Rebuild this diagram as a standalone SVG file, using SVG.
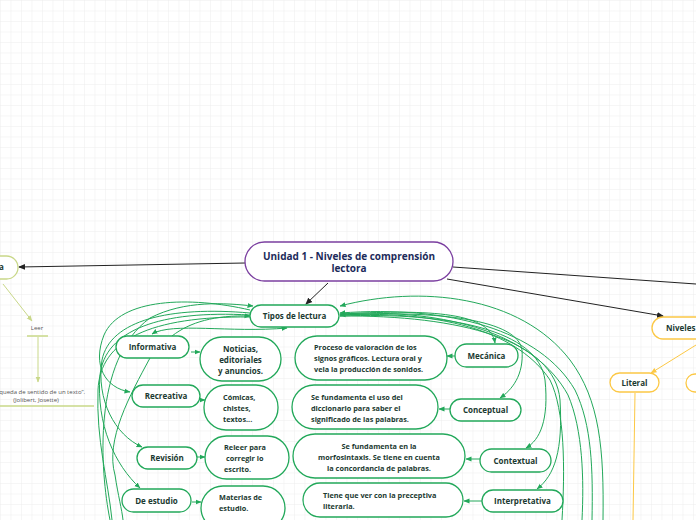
<svg xmlns="http://www.w3.org/2000/svg" width="696" height="520" viewBox="0 0 696 520">
<defs>
<pattern id="grid" width="10.5" height="10.5" patternUnits="userSpaceOnUse">
<path d="M10.5,0 L0,0 L0,10.5" fill="none" stroke="#ededed" stroke-width="1"/>
</pattern>
<marker id="ag" markerWidth="6" markerHeight="6" refX="5.5" refY="3" orient="auto" markerUnits="userSpaceOnUse">
<path d="M0,0.5 L6,3 L0,5.5 z" fill="#22a85a"/>
</marker>
<marker id="ags" markerWidth="6" markerHeight="6" refX="0.5" refY="3" orient="auto" markerUnits="userSpaceOnUse">
<path d="M6,0.5 L0,3 L6,5.5 z" fill="#22a85a"/>
</marker>
<marker id="ak" markerWidth="7" markerHeight="7" refX="6" refY="3.5" orient="auto" markerUnits="userSpaceOnUse">
<path d="M0,0.5 L7,3.5 L0,6.5 z" fill="#222"/>
</marker>
<marker id="ay" markerWidth="6" markerHeight="6" refX="5.5" refY="3" orient="auto" markerUnits="userSpaceOnUse">
<path d="M0,0.5 L6,3 L0,5.5 z" fill="#fcc845"/>
</marker>
<marker id="al" markerWidth="6" markerHeight="6" refX="5.5" refY="3" orient="auto" markerUnits="userSpaceOnUse">
<path d="M0,0.5 L6,3 L0,5.5 z" fill="#c9d889"/>
</marker>
</defs>
<style>
.n{fill:#fff;stroke:#22a85a;stroke-width:1.3}
.y{fill:#fff;stroke:#fcc845;stroke-width:1.3}
.t{font-family:"Open Sans","Noto Sans",sans-serif;font-weight:700;font-size:8px;fill:#1b3a31;text-anchor:middle}
.d{font-family:"Open Sans","Noto Sans",sans-serif;font-weight:700;font-size:7.3px;fill:#1b3a31}
.c{fill:none;stroke:#22a85a;stroke-width:1}
.k{fill:none;stroke:#222;stroke-width:1}
.s{font-family:"Open Sans","Noto Sans",sans-serif;font-size:6px;fill:#555;text-anchor:middle}
</style>
<rect width="696" height="520" fill="#fff"/>
<rect width="696" height="520" fill="url(#grid)"/>

<g id="connectors">
<line class="k" x1="245" y1="263" x2="19" y2="267" marker-end="url(#ak)"/>
<line class="k" x1="453" y1="267" x2="696" y2="284"/>
<line class="k" x1="447" y1="279" x2="663" y2="316" marker-end="url(#ak)"/>
<line class="k" x1="328" y1="283" x2="306" y2="304" marker-end="url(#ak)"/>
<line x1="3" y1="284" x2="32" y2="321" stroke="#c9d889" stroke-width="1" marker-end="url(#al)"/>
<line x1="27" y1="336" x2="48" y2="336" stroke="#c9d889" stroke-width="1.5"/>
<line x1="38" y1="337" x2="38" y2="382" stroke="#c9d889" stroke-width="1" marker-end="url(#al)"/>
<line x1="0" y1="406" x2="94" y2="406" stroke="#c9d889" stroke-width="1.5"/>
<line x1="696" y1="345" x2="651" y2="373" stroke="#fcc845" stroke-width="1" marker-end="url(#ay)"/>
<line x1="635" y1="393" x2="633" y2="520" stroke="#fcc845" stroke-width="1"/>
<!-- short arrows -->
<line class="c" x1="191" y1="352" x2="200" y2="352" marker-end="url(#ag)"/>
<line class="c" x1="200" y1="400" x2="205" y2="400" marker-end="url(#ag)"/>
<line class="c" x1="197" y1="457" x2="205" y2="457" marker-end="url(#ag)"/>
<line class="c" x1="192" y1="502" x2="201" y2="502" marker-end="url(#ag)"/>
<line class="c" x1="455" y1="356" x2="447" y2="356" marker-end="url(#ag)"/>
<line class="c" x1="450" y1="409" x2="439" y2="409" marker-end="url(#ag)"/>
<line class="c" x1="480" y1="459" x2="466" y2="459" marker-end="url(#ag)"/>
<line class="c" x1="482" y1="501" x2="464" y2="501" marker-end="url(#ag)"/>
<!-- left curves -->
<path class="c" d="M250,310 C190,296 120,298 104,335 C92,365 105,388 130,392" marker-end="url(#ag)"/>
<path class="c" d="M250,313 C170,306 110,320 102,360 C96,400 115,435 142,447" marker-end="url(#ag)"/>
<path class="c" d="M250,315 C160,310 105,330 100,375 C96,425 115,465 140,488" marker-end="url(#ag)"/>
<path class="c" d="M287,328 C230,333 172,322 152,334" marker-start="url(#ags)" marker-end="url(#ag)"/>
<path class="c" d="M172,336 C190,322 215,315 250,316" marker-end="url(#ag)"/>
<path class="c" d="M110,520 C100,470 92,360 150,318 C185,300 225,303 253,306" marker-end="url(#ag)"/>
<path class="c" d="M150,358 C130,395 105,440 115,475 C118,495 122,510 123,520"/>
<path class="c" d="M250,317 C150,316 100,340 98,390 C96,440 108,480 112,520"/>
<!-- right curves -->
<path class="c" d="M340,306 C420,285 520,295 570,360 C600,400 604,450 603,520" marker-start="url(#ags)"/>
<path class="c" d="M340,313 C450,305 540,330 575,390 C592,425 593,470 592,520" marker-start="url(#ags)"/>
<path class="c" d="M340,314 C450,308 535,335 568,395 C583,430 584,480 582,520"/>
<path class="c" d="M340,315 C450,310 520,335 550,380 C565,410 565,470 562,520" marker-start="url(#ags)"/>
<path class="c" d="M340,314 C420,310 490,310 495,343" marker-end="url(#ag)"/>
<path class="c" d="M340,315 C440,310 518,320 522,350 C524,375 512,390 500,398" marker-end="url(#ag)"/>
<path class="c" d="M340,316 C450,312 538,330 545,380 C549,420 540,440 526,448" marker-end="url(#ag)"/>
<path class="c" d="M340,316 C460,315 555,340 560,400 C563,450 555,475 537,489" marker-end="url(#ag)"/>
</g>

<g id="main">
<rect x="245" y="242" width="208" height="39" rx="19.5" fill="#fff" stroke="#7b3fa0" stroke-width="1.3"/>
<text x="349" y="259.5" font-family="Open Sans, Noto Sans, sans-serif" font-weight="700" font-size="10" fill="#1c2b5a" text-anchor="middle">Unidad 1 - Niveles de comprensión</text>
<text x="349" y="272" font-family="Open Sans, Noto Sans, sans-serif" font-weight="700" font-size="10" fill="#1c2b5a" text-anchor="middle">lectora</text>
</g>
<g id="left-node">
<rect x="-40" y="256" width="58" height="23" rx="11.5" fill="#fff" stroke="#c9d889" stroke-width="1.3"/>
<text x="-1" y="270" class="t" text-anchor="start" style="text-anchor:start">a</text>
</g>
<g id="leer"><text class="s" x="37" y="330">Leer</text></g>
<g id="cita">
<text class="s" x="36" y="393.5">“Búsqueda de sentido de un texto”.</text>
<text class="s" x="36" y="401.5">(Jolibert, Josette)</text>
</g>
<g id="tipos"><rect class="n" x="250" y="305" width="89" height="22" rx="11"/><text class="t" x="294.5" y="319">Tipos de lectura</text></g>
<g id="informativa"><rect class="n" x="116" y="336" width="73" height="22" rx="11"/><text class="t" x="152.5" y="350">Informativa</text></g>
<g id="noticias"><rect class="n" x="200" y="337" width="81" height="44" rx="22"/>
<text class="t" x="240.5" y="352">Noticias,</text><text class="t" x="240.5" y="363">editoriales</text><text class="t" x="240.5" y="374">y anuncios.</text></g>
<g id="recreativa"><rect class="n" x="132" y="385" width="68" height="22" rx="11"/><text class="t" x="166" y="399">Recreativa</text></g>
<g id="comicas"><rect class="n" x="204" y="385" width="74" height="45" rx="22"/>
<text class="d" x="223" y="400">Cómicas,</text><text class="d" x="223" y="411">chistes,</text><text class="d" x="223" y="422">textos...</text></g>
<g id="revision"><rect class="n" x="137" y="447" width="60" height="22" rx="11"/><text class="t" x="167" y="461">Revisión</text></g>
<g id="releer"><rect class="n" x="205" y="436" width="84" height="43" rx="21.5"/>
<text class="d" x="224" y="450">Releer para</text><text class="d" x="226" y="461">corregir lo</text><text class="d" x="224" y="472">escrito.</text></g>
<g id="estudio"><rect class="n" x="122" y="489" width="69" height="23" rx="11.5"/><text class="t" x="156.5" y="504">De estudio</text></g>
<g id="materias"><rect class="n" x="201" y="486" width="84" height="44" rx="22"/>
<text class="d" x="219" y="500">Materias de</text><text class="d" x="219" y="511">estudio.</text></g>

<g id="mecanica"><rect class="n" x="455" y="344" width="63" height="23" rx="11.5"/><text class="t" x="486.5" y="359">Mecánica</text></g>
<g id="proceso"><rect class="n" x="295" y="336" width="152" height="44" rx="22"/>
<text class="d" x="314" y="350">Proceso de valoración de los</text><text class="d" x="314" y="361">signos gráficos. Lectura oral y</text><text class="d" x="314" y="372">vela la producción de sonidos.</text></g>
<g id="conceptual"><rect class="n" x="450" y="399" width="71" height="22" rx="11"/><text class="t" x="485.5" y="413">Conceptual</text></g>
<g id="uso"><rect class="n" x="292" y="385" width="146" height="44" rx="22"/>
<text class="d" x="311" y="400">Se fundamenta el uso del</text><text class="d" x="311" y="411">diccionario para saber el</text><text class="d" x="311" y="422">significado de las palabras.</text></g>
<g id="contextual"><rect class="n" x="480" y="449" width="71" height="23" rx="11.5"/><text class="t" x="515.5" y="464">Contextual</text></g>
<g id="morfo"><rect class="n" x="293" y="434" width="172" height="44" rx="22"/>
<text class="d" x="379" y="449" text-anchor="middle">Se fundamenta en la</text><text class="d" x="379" y="460" text-anchor="middle">morfosintaxis. Se tiene en cuenta</text><text class="d" x="379" y="471" text-anchor="middle">la concordancia de palabras.</text></g>
<g id="interpretativa"><rect class="n" x="482" y="490" width="81" height="22" rx="11"/><text class="t" x="522.5" y="504">Interpretativa</text></g>
<g id="preceptiva"><rect class="n" x="303" y="483" width="160" height="34" rx="17"/>
<text class="d" x="323" y="498">Tiene que ver con la preceptiva</text><text class="d" x="323" y="509">literaria.</text></g>

<g id="niveles"><rect class="y" x="652" y="317" width="90" height="22" rx="11"/><text class="t" x="666" y="331" style="text-anchor:start">Niveles</text></g>
<g id="literal"><rect class="y" x="610" y="373" width="49" height="19" rx="9.5"/><text class="t" x="634.5" y="386">Literal</text></g>
<g id="yellow2"><rect class="y" x="686" y="374" width="60" height="18" rx="9"/></g>
</svg>
